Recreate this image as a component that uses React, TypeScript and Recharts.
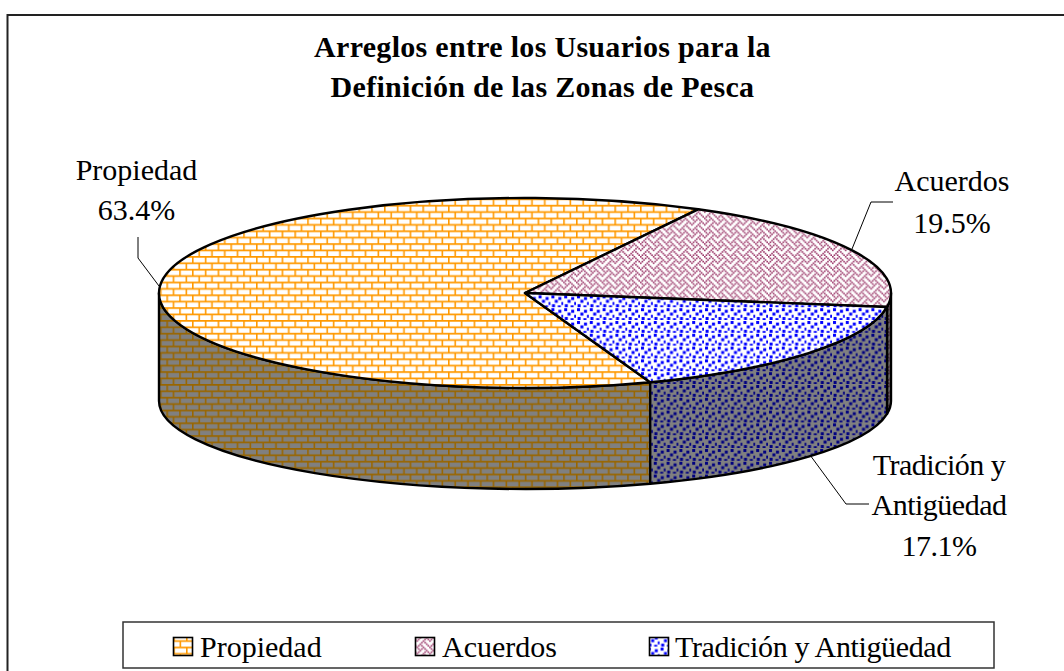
import React from "react";
import { PieChart, Pie, Legend } from "recharts";

const categories = ["Propiedad", "Acuerdos", "Tradición y Antigüedad"];
const shares = [63.4, 19.5, 17.1];
const titleLines = ["Arreglos entre los Usuarios para la", "Definición de las Zonas de Pesca"];

const FONT = '"Liberation Serif", "Times New Roman", serif';
const TILE = 12.8;
const PX = 1.6;

const CX = 525;
const CY = 293;
const RX = 366;
const RY = 95;
// the lower rim is a little flatter than the top face
const RIM_DROP = 108;
const RIM_RY = 88;

// 8x8 bitmap of the office "weave" fill
const weaveBits = [0x88, 0x54, 0x22, 0x45, 0x88, 0x14, 0x22, 0x51];
const confettiDots = [
  [1, 1],
  [8, 2.6],
  [4.4, 5.4],
  [11, 7.6],
  [1.6, 9.8],
  [7.4, 11],
];

const labelLayout: Record<string, { x: number; ys: number[]; lines: string[]; leader: string; spacing: number }> = {
  Propiedad: { x: 136.5, ys: [180, 220], lines: ["Propiedad"], leader: "M138 237V258L159 286", spacing: 0 },
  Acuerdos: { x: 952, ys: [191, 233], lines: ["Acuerdos"], leader: "M893 202H871L852 249", spacing: 0 },
  "Tradición y Antigüedad": {
    x: 939,
    ys: [475, 515, 556],
    lines: ["Tradición y", "Antigüedad"],
    leader: "M810 455L846 504H869",
    spacing: -0.5,
  },
};

const data = categories.map((name, i) => ({
  name,
  value: shares[i],
  fill: `url(#top-${i})`,
  wall: `url(#wall-${i})`,
}));

const pt = (deg: number) => {
  const a = (deg * Math.PI) / 180;
  return `${CX + RX * Math.cos(a)} ${CY - RY * Math.sin(a)}`;
};

const rimPt = (deg: number) => {
  const a = (deg * Math.PI) / 180;
  return `${CX + RX * Math.cos(a)} ${CY + RIM_DROP - RIM_RY * Math.sin(a)}`;
};

function wallPath(start: number, end: number) {
  // only the part of the rim below the horizontal axis shows
  const ranges = [
    [360, 180],
    [0, -180],
  ];
  for (const [hi, lo] of ranges) {
    const s = Math.min(start, hi);
    const e = Math.max(end, lo);
    if (s > e) {
      return `M${pt(s)}A${RX} ${RY} 0 0 1 ${pt(e)}L${rimPt(e)}A${RX} ${RIM_RY} 0 0 0 ${rimPt(s)}Z`;
    }
  }
  return null;
}

function Slice(props: any) {
  const { startAngle, endAngle, payload, fill } = props;
  const large = startAngle - endAngle > 180 ? 1 : 0;
  const wall = wallPath(startAngle, endAngle);
  return (
    <g>
      {wall && <path d={wall} fill={payload.wall} stroke="#000" strokeWidth={2.4} strokeLinejoin="round" />}
      <path
        d={`M${CX} ${CY}L${pt(startAngle)}A${RX} ${RY} 0 ${large} 1 ${pt(endAngle)}Z`}
        fill={fill}
        stroke="#000"
        strokeWidth={2.4}
        strokeLinejoin="round"
      />
    </g>
  );
}

function SliceLabel(props: any) {
  const { name, value } = props;
  const l = labelLayout[name];
  return (
    <g>
      <path d={l.leader} fill="none" stroke="#000" strokeWidth={1} />
      <text fontFamily={FONT} fontSize={30} fill="#000" textAnchor="middle" letterSpacing={l.spacing}>
        {[...l.lines, `${value.toFixed(1)}%`].map((t, i) => (
          <tspan key={t} x={l.x} y={l.ys[i]}>
            {t}
          </tspan>
        ))}
      </text>
    </g>
  );
}

const swatchX = [173.5, 415.5, 649.5];
const legendTextX = [200, 442, 675];
const legendTextSpacing = [0, 0, -0.36];

function LegendBox(props: any) {
  const items = props.payload || [];
  return (
    <svg width={874} height={49} style={{ display: "block" }}>
      <rect x={1} y={1} width={871} height={46} fill="#fff" stroke="#333" strokeWidth={1.5} />
      {items.map((it: any, i: number) => (
        <g key={it.value}>
          <rect x={swatchX[i] - 122} y={16.5} width={19} height={18} fill={data[i].fill} stroke="#000" strokeWidth={1.6} />
          <text
            x={legendTextX[i] - 122}
            y={36}
            fontFamily={FONT}
            fontSize={30}
            fill="#000"
            letterSpacing={legendTextSpacing[i]}
          >
            {it.value}
          </text>
        </g>
      ))}
    </svg>
  );
}

function Weave({ id, bg, ink }: { id: string; bg: string; ink: string }) {
  return (
    <pattern id={id} patternUnits="userSpaceOnUse" width={TILE} height={TILE}>
      <rect width={TILE} height={TILE} fill={bg} />
      {weaveBits.map((row, y) =>
        [0, 1, 2, 3, 4, 5, 6, 7].map((x) =>
          row & (0x80 >> x) ? <rect key={`${x}-${y}`} x={x * PX} y={y * PX} width={PX} height={PX} fill={ink} /> : null
        )
      )}
    </pattern>
  );
}

function Brick({ id, bg, ink }: { id: string; bg: string; ink: string }) {
  return (
    <pattern id={id} patternUnits="userSpaceOnUse" width={TILE} height={TILE}>
      <rect width={TILE} height={TILE} fill={bg} />
      <path
        d={`M0 ${PX / 2}H${TILE}M0 ${TILE / 2 + PX / 2}H${TILE}M${PX / 2} 0V${TILE / 2}M${TILE / 2 + PX / 2} ${TILE / 2}V${TILE}`}
        stroke={ink}
        strokeWidth={PX}
        fill="none"
      />
    </pattern>
  );
}

function Confetti({ id, bg, ink }: { id: string; bg: string; ink: string }) {
  return (
    <pattern id={id} patternUnits="userSpaceOnUse" width={TILE} height={TILE}>
      <rect width={TILE} height={TILE} fill={bg} />
      {confettiDots.map(([x, y]) => (
        <rect key={`${x}-${y}`} x={x} y={y} width={3} height={3} fill={ink} />
      ))}
    </pattern>
  );
}

export default function App() {
  return (
    <div style={{ position: "absolute", left: 0, top: 0, width: 1064, height: 671, background: "#fff", overflow: "hidden" }}>
      <PieChart width={1064} height={671} margin={{ top: 0, right: 0, bottom: 0, left: 0 }}>
        <defs>
          <Brick id="top-0" bg="#fff" ink="#FF9900" />
          <Weave id="top-1" bg="#fff" ink="#993366" />
          <Confetti id="top-2" bg="#fff" ink="#0000FF" />
          <Brick id="wall-0" bg="#808080" ink="#996600" />
          <Weave id="wall-1" bg="#808080" ink="#4D1A33" />
          <Confetti id="wall-2" bg="#808080" ink="#000080" />
        </defs>
        <path d="M7.5 671V15H1064" fill="none" stroke="#222" strokeWidth={2} />
        <text fontFamily={FONT} fontSize={30} fontWeight={700} textAnchor="middle" fill="#000" letterSpacing={0.3}>
          <tspan x={542.5} y={57}>
            {titleLines[0]}
          </tspan>
          <tspan x={542.5} y={97}>
            {titleLines[1]}
          </tspan>
        </text>
        <Pie
          data={data}
          dataKey="value"
          nameKey="name"
          cx={CX}
          cy={CY}
          innerRadius={0}
          outerRadius={RX}
          startAngle={290}
          endAngle={-70}
          stroke="#000"
          shape={Slice}
          label={SliceLabel}
          labelLine={false}
          isAnimationActive={false}
        />
        <Legend
          content={LegendBox}
          itemSorter={null}
          wrapperStyle={{ left: 122, top: 621, width: 874, height: 49, bottom: "auto" }}
        />
      </PieChart>
    </div>
  );
}
